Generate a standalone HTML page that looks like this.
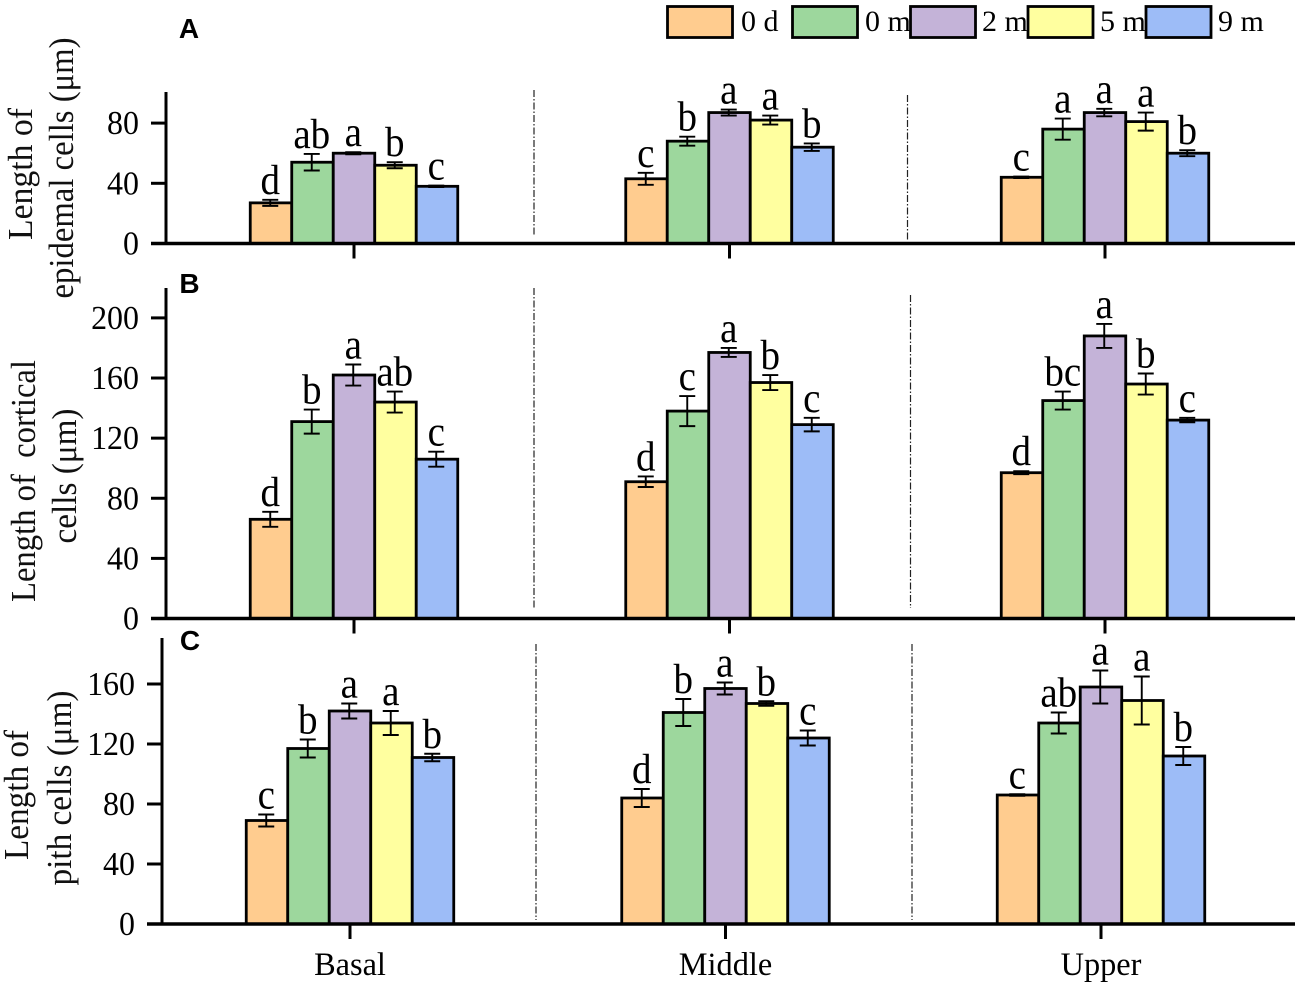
<!DOCTYPE html>
<html lang="en">
<head>
<meta charset="utf-8">
<title>Cell length by segment and storage time</title>
<style>
html,body{margin:0;padding:0;background:#fff;}
svg{display:block;font-family:"Liberation Serif",serif;fill:#000;}
.bar{stroke:#000;stroke-width:2.8;}
.s0{fill:#FFCC8F;}.s1{fill:#9DD79D;}.s2{fill:#C4B3D8;}.s3{fill:#FFFF9F;}.s4{fill:#9DBCF7;}
.axis{stroke:#000;stroke-width:3;fill:none;}
.err{stroke:#000;stroke-width:1.9;fill:none;}
.div{stroke:#222;stroke-width:1.2;stroke-dasharray:7 2 1.5 2;fill:none;}
.tick-label{font-size:34px;text-anchor:end;}
.sig{font-size:42px;text-anchor:middle;}
.cat{font-size:33px;text-anchor:middle;}
.title{font-size:35px;text-anchor:middle;fill:#111;}
.legend-label{font-size:30px;}
.panel-letter{font-family:"Liberation Sans",sans-serif;font-weight:bold;font-size:28px;text-anchor:middle;}
</style>
</head>
<body>
<svg id="chart" xmlns="http://www.w3.org/2000/svg" width="1299" height="987" viewBox="0 0 1299 987">
  <g>
    <text class="title" transform="translate(32 174) rotate(-90)" textLength="132" lengthAdjust="spacingAndGlyphs">Length of</text>
    <text class="title" transform="translate(73 168) rotate(-90)" textLength="261" lengthAdjust="spacingAndGlyphs">epidemal cells (μm)</text>
  </g>
  <g>
    <text class="title" transform="translate(35 481) rotate(-90)" textLength="242" lengthAdjust="spacingAndGlyphs" xml:space="preserve">Length of  cortical</text>
    <text class="title" transform="translate(76 476) rotate(-90)" textLength="135" lengthAdjust="spacingAndGlyphs">cells (μm)</text>
  </g>
  <g>
    <text class="title" transform="translate(28 795) rotate(-90)" textLength="130" lengthAdjust="spacingAndGlyphs">Length of</text>
    <text class="title" transform="translate(71 788) rotate(-90)" textLength="195" lengthAdjust="spacingAndGlyphs">pith cells (μm)</text>
  </g>
  <text class="panel-letter" x="189" y="38">A</text>
  <text class="panel-letter" x="189.5" y="293">B</text>
  <text class="panel-letter" x="190" y="650">C</text>

  <g>
    <g>
      <rect class="bar s0" x="667.5" y="6.5" width="65" height="31"></rect>
      <text class="legend-label" x="741" y="31">0 d</text>
    </g>
    <g>
      <rect class="bar s1" x="792.5" y="6.5" width="65" height="31"></rect>
      <text class="legend-label" x="865" y="31">0 m</text>
    </g>
    <g>
      <rect class="bar s2" x="910.5" y="6.5" width="65" height="31"></rect>
      <text class="legend-label" x="982" y="31">2 m</text>
    </g>
    <g>
      <rect class="bar s3" x="1028" y="6.5" width="65" height="31"></rect>
      <text class="legend-label" x="1100" y="31">5 m</text>
    </g>
    <g>
      <rect class="bar s4" x="1146" y="6.5" width="65" height="31"></rect>
      <text class="legend-label" x="1218" y="31">9 m</text>
    </g>
  </g>
</svg>
<script>
var categories = ['Basal', 'Middle', 'Upper'];
var seriesNames = ['0 d', '0 m', '2 m', '5 m', '9 m'];

var panelATicks = [0, 40, 80];
var panelABasal = [27, 54, 60, 52, 38];
var panelAMiddle = [43, 68, 87, 82, 64];
var panelAUpper = [44, 76, 87, 81, 60];
var panelABasalErr = [2, 5.5, 0.7, 2, 0.5];
var panelAMiddleErr = [4, 3, 2, 3, 2.5];
var panelAUpperErr = [0.5, 7, 2.5, 6, 2];
var panelABasalSig = ['d', 'ab', 'a', 'b', 'c'];
var panelAMiddleSig = ['c', 'b', 'a', 'a', 'b'];
var panelAUpperSig = ['c', 'a', 'a', 'a', 'b'];

var panelBTicks = [0, 40, 80, 120, 160, 200];
var panelBBasal = [66, 131, 162, 144, 106];
var panelBMiddle = [91, 138, 177, 157, 129];
var panelBUpper = [97, 145, 188, 156, 132];
var panelBBasalErr = [5, 8, 7, 7, 5];
var panelBMiddleErr = [3.5, 10, 3, 5, 4.5];
var panelBUpperErr = [1, 6, 8, 7, 1.5];
var panelBBasalSig = ['d', 'b', 'a', 'ab', 'c'];
var panelBMiddleSig = ['d', 'c', 'a', 'b', 'c'];
var panelBUpperSig = ['d', 'bc', 'a', 'b', 'c'];

var panelCTicks = [0, 40, 80, 120, 160];
var panelCBasal = [69, 117, 142, 134, 111];
var panelCMiddle = [84, 141, 157, 147, 124];
var panelCUpper = [86, 134, 158, 149, 112];
var panelCBasalErr = [4, 6, 5, 8, 2.5];
var panelCMiddleErr = [6, 9, 4, 1.5, 5];
var panelCUpperErr = [0.5, 7, 11, 16, 6];
var panelCBasalSig = ['c', 'b', 'a', 'a', 'b'];
var panelCMiddleSig = ['d', 'b', 'a', 'b', 'c'];
var panelCUpperSig = ['c', 'ab', 'a', 'a', 'b'];

var svg = document.getElementById('chart');
var NS = 'http://www.w3.org/2000/svg';

function make(parent, tag, cls, attrs, text) {
  var el = document.createElementNS(NS, tag);
  if (cls) el.setAttribute('class', cls);
  for (var k in attrs) el.setAttribute(k, attrs[k]);
  if (text !== undefined) el.textContent = text;
  parent.appendChild(el);
  return el;
}

function placed(x, y, sx) {
  return 'translate(' + x + ' ' + y + ') scale(' + sx + ' 1)';
}

function drawPanel(p) {
  var yOf = function (v) { return p.base - v * p.scale; };
  var groupCenter = function (g) { return p.center0 + g * 375.5; };
  var barLeft = function (g, s) { return groupCenter(g) + (s - 2.5) * 41.5; };

  var root = make(svg, 'g', '', {});
  
  

  p.dividers.forEach(function (d, i) {
    var line = make(root, 'line', 'div', { x1: d[0], x2: d[0], y1: d[1], y2: d[2] });
    
    
  });

  p.values.forEach(function (vals, g) {
    vals.forEach(function (v, s) {
      var left = barLeft(g, s);
      var rect = make(root, 'rect', 'bar s' + s, { x: left, y: yOf(v), width: 41.5, height: p.base - yOf(v) });
      
      
    });
  });

  p.values.forEach(function (vals, g) {
    vals.forEach(function (v, s) {
      var e = p.errors[g][s];
      var cx = barLeft(g, s) + 20;
      var top = yOf(v + e);
      var bottom = yOf(v - e);
      var err = make(root, 'path', 'err', {
        d: 'M' + (cx - 8) + ' ' + top + 'H' + (cx + 8) + 'M' + cx + ' ' + top + 'V' + bottom + 'M' + (cx - 8) + ' ' + bottom + 'H' + (cx + 8)
      });
      
      

      var sig = make(root, 'text', 'sig', { transform: placed(cx, top - 6, 0.93) }, p.letters[g][s]);
      
      
    });
  });

  var yAxis = make(root, 'line', 'axis', { x1: p.axisX, x2: p.axisX, y1: p.top, y2: p.base });
  
  

  var xAxis = make(root, 'line', 'axis', { x1: p.axisX - 15, x2: 1295, y1: p.base, y2: p.base, style: 'stroke-width:3.6' });
  
  

  p.ticks.forEach(function (t) {
    var tick = make(root, 'line', 'axis', { x1: p.axisX - 15, x2: p.axisX, y1: yOf(t), y2: yOf(t) });
    
    
    var label = make(root, 'text', 'tick-label', { transform: placed(p.axisX - 27, yOf(t) + 11, 0.94) }, t);
    
    
  });

  categories.forEach(function (c, g) {
    var tick = make(root, 'line', 'axis', { x1: groupCenter(g), x2: groupCenter(g), y1: p.base, y2: p.base + 15 });
    
    
    if (p.showCategories) {
      var label = make(root, 'text', 'cat', { transform: placed(groupCenter(g), 975, 0.98) }, c);
      
      
    }
  });
}

drawPanel({
  id: 'a', axisX: 166, base: 243.5, top: 92, scale: 1.505, center0: 354,
  ticks: panelATicks,
  values: [panelABasal, panelAMiddle, panelAUpper],
  errors: [panelABasalErr, panelAMiddleErr, panelAUpperErr],
  letters: [panelABasalSig, panelAMiddleSig, panelAUpperSig],
  dividers: [[534, 90, 236], [907.5, 95, 240]],
  showCategories: false
});
drawPanel({
  id: 'b', axisX: 166, base: 618.5, top: 288, scale: 1.503, center0: 354,
  ticks: panelBTicks,
  values: [panelBBasal, panelBMiddle, panelBUpper],
  errors: [panelBBasalErr, panelBMiddleErr, panelBUpperErr],
  letters: [panelBBasalSig, panelBMiddleSig, panelBUpperSig],
  dividers: [[534, 288, 608], [910.5, 295, 608]],
  showCategories: false
});
drawPanel({
  id: 'c', axisX: 162, base: 924, top: 638, scale: 1.5, center0: 350,
  ticks: panelCTicks,
  values: [panelCBasal, panelCMiddle, panelCUpper],
  errors: [panelCBasalErr, panelCMiddleErr, panelCUpperErr],
  letters: [panelCBasalSig, panelCMiddleSig, panelCUpperSig],
  dividers: [[536, 644, 920], [912, 644, 920]],
  showCategories: true
});
</script>
</body>
</html>
